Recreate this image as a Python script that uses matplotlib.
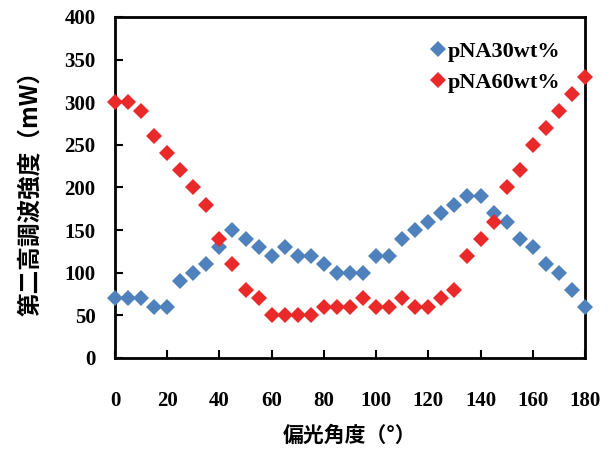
import matplotlib
matplotlib.use("Agg")
import matplotlib.pyplot as plt

# 偏光角度 (deg)
angles = list(range(0, 181, 5))
pna30 = [70, 70, 70, 60, 60, 90, 100, 110, 130, 150, 140, 130, 120, 130, 120, 120, 110, 100, 100,
         100, 120, 120, 140, 150, 160, 170, 180, 190, 190, 170, 160, 140, 130, 110, 100, 80, 60]
pna60 = [300, 300, 290, 260, 240, 220, 200, 180, 140, 110, 80, 70, 50, 50, 50, 50, 60, 60, 60,
         70, 60, 60, 70, 60, 60, 70, 80, 120, 140, 160, 200, 220, 250, 270, 290, 310, 330]
series_names = ["pNA30wt%", "pNA60wt%"]
xticks = list(range(0, 181, 20))
yticks = list(range(0, 401, 50))

serif = "Liberation Serif"
cjk = ["Noto Sans CJK JP", "DejaVu Sans"]

fig = plt.figure(figsize=(6.1, 4.54), dpi=100)
ax = fig.add_axes([0.1885, 0.2115, 0.7705, 0.7511])

ax.plot(angles, pna30, linestyle="none", marker="D", markersize=8.5, color="#4F81BD",
        markeredgewidth=0, label=series_names[0], clip_on=False, zorder=3)
ax.plot(angles, pna60, linestyle="none", marker="D", markersize=8.5, color="#EA2A2A",
        markeredgewidth=0, label=series_names[1], clip_on=False, zorder=3)

ax.set_xlim(0, 180)
ax.set_ylim(0, 400)
ax.set_xticks(xticks)
ax.set_yticks(yticks)
ax.tick_params(direction="in", length=6, width=1.5)
ax.tick_params(axis="x", pad=24)
ax.tick_params(axis="y", pad=14)
for lab in ax.get_xticklabels() + ax.get_yticklabels():
    lab.set_fontfamily(serif)
    lab.set_fontsize(15)
    lab.set_fontweight("bold")
for sp in ax.spines.values():
    sp.set_linewidth(2)

ax.set_xlabel("偏光角度（°）", family=cjk, fontsize=15, fontweight="bold", labelpad=10)
ax.set_ylabel("第二高調波強度（mW）", family=cjk, fontsize=17, fontweight="bold", labelpad=16)

ax.legend(loc="upper right", frameon=False, handletextpad=0.0, handlelength=0.9,
          borderaxespad=0.7, labelspacing=0.45,
          prop={"family": serif, "size": 16, "weight": "bold"})

fig.savefig("out.png", dpi=100)
